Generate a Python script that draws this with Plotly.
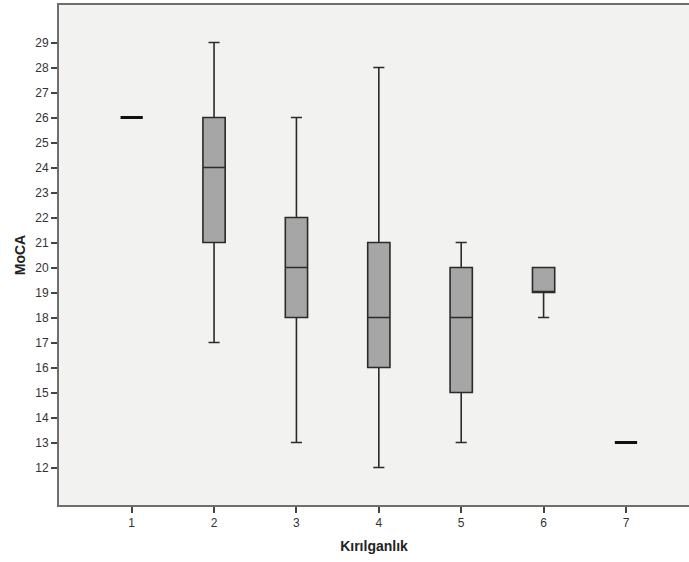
import plotly.graph_objects as go

categories = [1, 2, 3, 4, 5, 6, 7]
lower = [26, 17, 13, 12, 13, 18, 13]
q1 = [26, 21, 18, 16, 15, 19, 13]
median = [26, 24, 20, 18, 18, 19, 13]
q3 = [26, 26, 22, 21, 20, 20, 13]
upper = [26, 29, 26, 28, 21, 20, 13]
y_ticks = list(range(12, 30))

fig = go.Figure()

main = [i for i in range(len(categories)) if q1[i] != q3[i]]
flat = [i for i in range(len(categories)) if q1[i] == q3[i]]

fig.add_trace(go.Box(
    x=[categories[i] for i in main],
    q1=[q1[i] for i in main],
    median=[median[i] for i in main],
    q3=[q3[i] for i in main],
    lowerfence=[lower[i] for i in main],
    upperfence=[upper[i] for i in main],
    fillcolor="#a6a6a6",
    line=dict(color="#2b2b2b", width=1.6),
    whiskerwidth=0.5,
    width=0.27,
    boxpoints=False,
    showlegend=False,
    hoverinfo="skip",
))
fig.add_trace(go.Box(
    x=[categories[i] for i in flat],
    q1=[q1[i] for i in flat],
    median=[median[i] for i in flat],
    q3=[q3[i] for i in flat],
    lowerfence=[lower[i] for i in flat],
    upperfence=[upper[i] for i in flat],
    fillcolor="#a6a6a6",
    line=dict(color="#111111", width=3),
    whiskerwidth=0.5,
    width=0.27,
    boxpoints=False,
    showlegend=False,
    hoverinfo="skip",
))

fig.update_layout(
    width=689, height=562,
    margin=dict(l=59, r=0, t=5, b=57),
    paper_bgcolor="white",
    plot_bgcolor="#f2f2f1",
    boxmode="overlay",
    font=dict(family="Liberation Sans, Arial, sans-serif", size=12, color="#333333"),
)
fig.update_xaxes(
    range=[0.118, 7.765], automargin=False,
    tickmode="array", tickvals=categories, ticktext=[str(c) for c in categories],
    ticks="outside", ticklen=6, tickwidth=1.5, tickcolor="#444444",
    showline=True, linecolor="#6e6e6e", linewidth=2, mirror=True,
    showgrid=False, zeroline=False,
    title=dict(text="<b>Kırılganlık</b>", font=dict(size=14, color="#222222"), standoff=12),
)
fig.update_yaxes(
    range=[10.5, 30.5], automargin=False,
    tickmode="array", tickvals=y_ticks, ticktext=[str(v) for v in y_ticks],
    ticks="outside", ticklen=6, tickwidth=1.5, tickcolor="#444444",
    showline=True, linecolor="#6e6e6e", linewidth=2,
    showgrid=False, zeroline=False,
    title=dict(text="<b>MoCA</b>", font=dict(size=14, color="#222222"), standoff=6),
)

fig.write_html("out.html", config={"displayModeBar": False},
               post_script="document.body.style.margin='0';")
